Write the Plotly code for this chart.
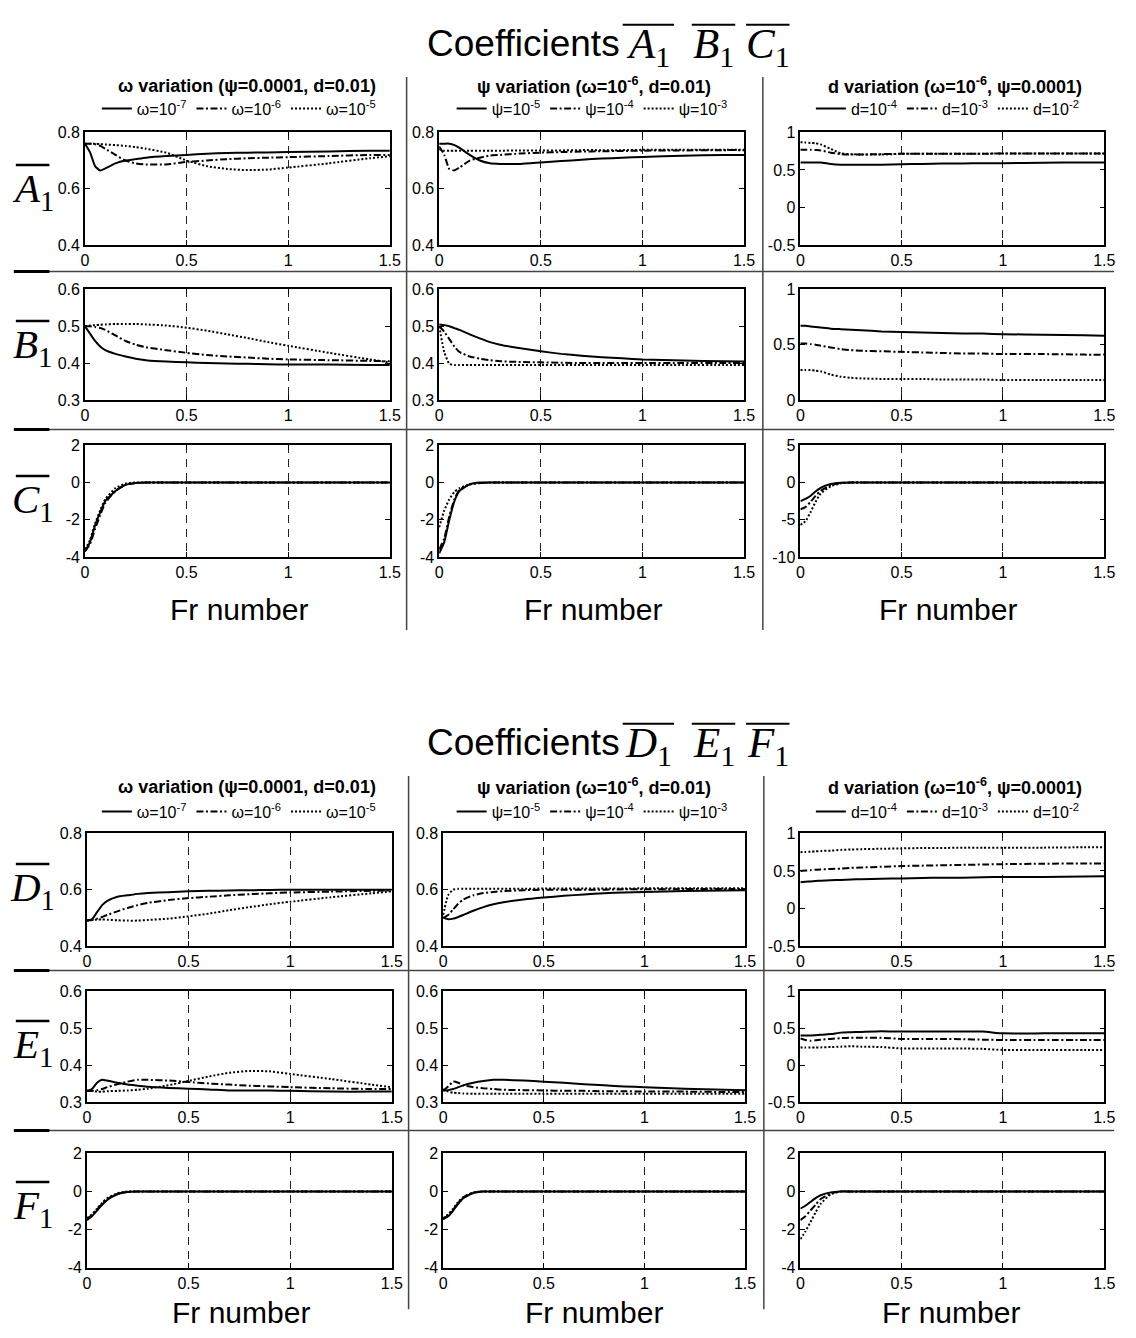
import plotly.graph_objects as go

W, H = 1136, 1338

# ---------------- data ----------------
FR = [0, 0.025, 0.05, 0.075, 0.1, 0.15, 0.2, 0.25, 0.3, 0.4, 0.5, 0.6, 0.7, 0.8, 0.9, 1.0, 1.2, 1.4, 1.5]
X_TICKS = [0, 0.5, 1, 1.5]
X_TICKTEXT = ["0", "0.5", "1", "1.5"]

# A1
A_w7 = [0.76, 0.73, 0.68, 0.665, 0.672, 0.69, 0.70, 0.705, 0.71, 0.716, 0.72, 0.724, 0.727, 0.728, 0.729, 0.73, 0.732, 0.735, 0.735]
A_w6 = [0.76, 0.76, 0.758, 0.752, 0.742, 0.72, 0.70, 0.69, 0.686, 0.686, 0.695, 0.70, 0.705, 0.708, 0.71, 0.712, 0.716, 0.72, 0.72]
A_w5 = [0.76, 0.76, 0.76, 0.758, 0.757, 0.755, 0.752, 0.748, 0.742, 0.728, 0.70, 0.68, 0.67, 0.666, 0.668, 0.675, 0.69, 0.708, 0.715]
A_p5 = [0.76, 0.76, 0.76, 0.755, 0.745, 0.72, 0.70, 0.69, 0.688, 0.688, 0.693, 0.698, 0.703, 0.707, 0.71, 0.713, 0.717, 0.72, 0.72]
A_p4 = [0.75, 0.72, 0.67, 0.665, 0.675, 0.70, 0.71, 0.718, 0.72, 0.725, 0.728, 0.73, 0.732, 0.733, 0.734, 0.735, 0.736, 0.737, 0.737]
A_p3 = [0.74, 0.735, 0.735, 0.735, 0.735, 0.735, 0.735, 0.735, 0.735, 0.736, 0.736, 0.736, 0.737, 0.737, 0.737, 0.738, 0.738, 0.738, 0.738]
A_d4 = [0.60, 0.60, 0.60, 0.60, 0.60, 0.58, 0.57, 0.57, 0.57, 0.57, 0.575, 0.58, 0.585, 0.585, 0.59, 0.59, 0.595, 0.60, 0.60]
A_d3 = [0.77, 0.77, 0.77, 0.765, 0.76, 0.73, 0.71, 0.705, 0.705, 0.71, 0.715, 0.715, 0.715, 0.715, 0.715, 0.72, 0.72, 0.72, 0.72]
A_d2 = [0.87, 0.865, 0.86, 0.855, 0.84, 0.78, 0.72, 0.71, 0.705, 0.705, 0.715, 0.715, 0.715, 0.715, 0.715, 0.72, 0.72, 0.72, 0.72]

# B1
B_w7 = [0.50, 0.48, 0.46, 0.445, 0.435, 0.425, 0.418, 0.412, 0.408, 0.404, 0.402, 0.40, 0.399, 0.398, 0.397, 0.396, 0.396, 0.395, 0.395]
B_w6 = [0.50, 0.50, 0.498, 0.495, 0.49, 0.475, 0.46, 0.45, 0.443, 0.435, 0.428, 0.422, 0.418, 0.415, 0.412, 0.41, 0.408, 0.406, 0.405]
B_w5 = [0.50, 0.502, 0.503, 0.504, 0.505, 0.506, 0.506, 0.506, 0.505, 0.502, 0.496, 0.488, 0.478, 0.468, 0.457, 0.447, 0.428, 0.41, 0.402]
B_p5 = [0.505, 0.503, 0.50, 0.495, 0.49, 0.478, 0.467, 0.457, 0.45, 0.44, 0.432, 0.425, 0.42, 0.416, 0.413, 0.41, 0.407, 0.405, 0.404]
B_p4 = [0.50, 0.485, 0.465, 0.445, 0.43, 0.418, 0.412, 0.408, 0.405, 0.403, 0.402, 0.401, 0.40, 0.40, 0.40, 0.40, 0.40, 0.40, 0.40]
B_p3 = [0.50, 0.43, 0.398, 0.395, 0.395, 0.395, 0.395, 0.395, 0.395, 0.395, 0.395, 0.395, 0.395, 0.395, 0.395, 0.395, 0.395, 0.395, 0.395]
B_d4 = [0.67, 0.67, 0.665, 0.66, 0.655, 0.645, 0.64, 0.635, 0.63, 0.62, 0.615, 0.61, 0.605, 0.60, 0.60, 0.595, 0.59, 0.585, 0.58]
B_d3 = [0.51, 0.51, 0.505, 0.50, 0.49, 0.475, 0.46, 0.45, 0.445, 0.44, 0.435, 0.43, 0.425, 0.42, 0.42, 0.415, 0.415, 0.41, 0.41]
B_d2 = [0.27, 0.27, 0.27, 0.265, 0.26, 0.23, 0.21, 0.20, 0.195, 0.19, 0.19, 0.19, 0.185, 0.185, 0.185, 0.18, 0.18, 0.18, 0.18]

# C1
C_w7 = [-3.7, -3.2, -2.3, -1.6, -1.0, -0.45, -0.12, -0.02, 0, 0, 0, 0, 0, 0, 0, 0, 0, 0, 0]
C_w6 = [-3.7, -3.3, -2.5, -1.75, -1.1, -0.45, -0.12, -0.03, 0, 0, 0, 0, 0, 0, 0, 0, 0, 0, 0]
C_w5 = [-3.6, -3.1, -2.2, -1.5, -0.9, -0.3, -0.05, 0, 0, 0, 0, 0, 0, 0, 0, 0, 0, 0, 0]
C_p5 = [-3.8, -3.2, -2.0, -1.0, -0.45, -0.1, 0, 0, 0, 0, 0, 0, 0, 0, 0, 0, 0, 0, 0]
C_p4 = [-3.6, -3.0, -1.8, -0.9, -0.4, -0.1, -0.02, 0, 0, 0, 0, 0, 0, 0, 0, 0, 0, 0, 0]
C_p3 = [-2.4, -1.5, -0.9, -0.5, -0.3, -0.1, -0.03, 0, 0, 0, 0, 0, 0, 0, 0, 0, 0, 0, 0]
C_d4 = [-2.5, -2.2, -1.8, -1.2, -0.7, -0.2, -0.03, 0, 0, 0, 0, 0, 0, 0, 0, 0, 0, 0, 0]
C_d3 = [-3.6, -3.3, -2.6, -1.8, -1.1, -0.35, -0.05, 0, 0, 0, 0, 0, 0, 0, 0, 0, 0, 0, 0]
C_d2 = [-5.7, -5.2, -4.0, -2.6, -1.5, -0.5, -0.1, 0, 0, 0, 0, 0, 0, 0, 0, 0, 0, 0, 0]

# D1
D_w7 = [0.49, 0.495, 0.52, 0.545, 0.56, 0.575, 0.58, 0.585, 0.588, 0.591, 0.594, 0.596, 0.597, 0.598, 0.599, 0.60, 0.60, 0.60, 0.60]
D_w6 = [0.49, 0.492, 0.497, 0.503, 0.51, 0.523, 0.535, 0.545, 0.553, 0.563, 0.57, 0.575, 0.58, 0.584, 0.587, 0.59, 0.593, 0.596, 0.597]
D_w5 = [0.49, 0.492, 0.494, 0.494, 0.493, 0.491, 0.49, 0.49, 0.492, 0.497, 0.505, 0.515, 0.527, 0.538, 0.548, 0.557, 0.573, 0.587, 0.594]
D_p5 = [0.50, 0.495, 0.497, 0.503, 0.51, 0.525, 0.538, 0.548, 0.555, 0.565, 0.572, 0.578, 0.583, 0.587, 0.59, 0.592, 0.595, 0.597, 0.598]
D_p4 = [0.50, 0.51, 0.53, 0.55, 0.565, 0.58, 0.588, 0.592, 0.595, 0.598, 0.60, 0.60, 0.60, 0.60, 0.601, 0.601, 0.602, 0.602, 0.602]
D_p3 = [0.51, 0.58, 0.60, 0.603, 0.603, 0.603, 0.603, 0.603, 0.603, 0.603, 0.604, 0.604, 0.604, 0.604, 0.604, 0.605, 0.605, 0.605, 0.605]
D_d4 = [0.35, 0.355, 0.36, 0.365, 0.37, 0.375, 0.38, 0.385, 0.39, 0.395, 0.40, 0.405, 0.41, 0.41, 0.415, 0.42, 0.42, 0.425, 0.43]
D_d3 = [0.50, 0.505, 0.51, 0.515, 0.52, 0.525, 0.53, 0.54, 0.545, 0.555, 0.565, 0.57, 0.575, 0.58, 0.585, 0.59, 0.595, 0.60, 0.60]
D_d2 = [0.75, 0.752, 0.755, 0.76, 0.765, 0.77, 0.78, 0.785, 0.79, 0.795, 0.80, 0.805, 0.805, 0.81, 0.81, 0.81, 0.81, 0.815, 0.815]

# E1
E_w7 = [0.33, 0.335, 0.352, 0.36, 0.358, 0.352, 0.347, 0.344, 0.341, 0.338, 0.336, 0.334, 0.331, 0.331, 0.331, 0.33, 0.328, 0.328, 0.328]
E_w6 = [0.33, 0.33, 0.332, 0.335, 0.34, 0.348, 0.355, 0.36, 0.36, 0.358, 0.354, 0.35, 0.347, 0.344, 0.342, 0.34, 0.337, 0.335, 0.335]
E_w5 = [0.33, 0.33, 0.328, 0.328, 0.329, 0.33, 0.331, 0.333, 0.336, 0.345, 0.357, 0.369, 0.379, 0.384, 0.383, 0.376, 0.362, 0.347, 0.34]
E_p5 = [0.33, 0.332, 0.335, 0.34, 0.345, 0.352, 0.357, 0.36, 0.36, 0.358, 0.355, 0.352, 0.348, 0.345, 0.342, 0.34, 0.336, 0.333, 0.332]
E_p4 = [0.33, 0.342, 0.355, 0.352, 0.345, 0.34, 0.337, 0.335, 0.333, 0.332, 0.331, 0.33, 0.33, 0.329, 0.329, 0.328, 0.328, 0.327, 0.327]
E_p3 = [0.335, 0.328, 0.325, 0.324, 0.323, 0.322, 0.322, 0.322, 0.322, 0.322, 0.322, 0.322, 0.322, 0.322, 0.322, 0.322, 0.322, 0.322, 0.322]
E_d4 = [0.40, 0.40, 0.40, 0.405, 0.41, 0.42, 0.44, 0.445, 0.45, 0.46, 0.455, 0.455, 0.455, 0.455, 0.455, 0.43, 0.43, 0.43, 0.43]
E_d3 = [0.36, 0.34, 0.33, 0.335, 0.345, 0.355, 0.365, 0.37, 0.37, 0.37, 0.355, 0.355, 0.355, 0.35, 0.345, 0.34, 0.34, 0.34, 0.34]
E_d2 = [0.24, 0.24, 0.24, 0.24, 0.24, 0.245, 0.25, 0.255, 0.25, 0.245, 0.225, 0.225, 0.225, 0.225, 0.22, 0.205, 0.205, 0.205, 0.205]

# F1
F_w7 = [-1.5, -1.3, -1.0, -0.7, -0.45, -0.15, -0.03, 0, 0, 0, 0, 0, 0, 0, 0, 0, 0, 0, 0]
F_w6 = [-1.45, -1.25, -0.95, -0.65, -0.4, -0.12, -0.02, 0, 0, 0, 0, 0, 0, 0, 0, 0, 0, 0, 0]
F_w5 = [-1.4, -1.2, -0.9, -0.6, -0.35, -0.1, 0, 0, 0, 0, 0, 0, 0, 0, 0, 0, 0, 0, 0]
F_p5 = [-1.45, -1.3, -1.0, -0.65, -0.35, -0.08, 0, 0, 0, 0, 0, 0, 0, 0, 0, 0, 0, 0, 0]
F_p4 = [-1.45, -1.25, -0.95, -0.6, -0.32, -0.06, 0, 0, 0, 0, 0, 0, 0, 0, 0, 0, 0, 0, 0]
F_p3 = [-1.4, -1.2, -0.9, -0.55, -0.3, -0.05, 0, 0, 0, 0, 0, 0, 0, 0, 0, 0, 0, 0, 0]
F_d4 = [-0.9, -0.75, -0.55, -0.35, -0.2, -0.05, 0, 0, 0, 0, 0, 0, 0, 0, 0, 0, 0, 0, 0]
F_d3 = [-1.5, -1.3, -1.0, -0.7, -0.4, -0.1, 0, 0, 0, 0, 0, 0, 0, 0, 0, 0, 0, 0, 0]
F_d2 = [-2.5, -2.1, -1.6, -1.1, -0.65, -0.15, 0, 0, 0, 0, 0, 0, 0, 0, 0, 0, 0, 0, 0]

LABELS_W = ["ω=10<sup>-7</sup>", "ω=10<sup>-6</sup>", "ω=10<sup>-5</sup>"]
LABELS_P = ["ψ=10<sup>-5</sup>", "ψ=10<sup>-4</sup>", "ψ=10<sup>-3</sup>"]
LABELS_D = ["d=10<sup>-4</sup>", "d=10<sup>-3</sup>", "d=10<sup>-2</sup>"]
HEADERS = ["<b>ω variation (ψ=0.0001, d=0.01)</b>",
           "<b>ψ variation (ω=10<sup>-6</sup>, d=0.01)</b>",
           "<b>d variation (ω=10<sup>-6</sup>, ψ=0.0001)</b>"]
ROW_LETTERS = ["A", "B", "C", "D", "E", "F"]
TITLE_WORD = "Coefficients"
AXIS_TITLE = "Fr number"

TICKS_04_08 = [0.4, 0.6, 0.8]
TICKS_03_06 = [0.3, 0.4, 0.5, 0.6]
TICKS_M05_1 = [-0.5, 0, 0.5, 1]
TICKS_0_1 = [0, 0.5, 1]
TICKS_M4_2 = [-4, -2, 0, 2]
TICKS_M10_5 = [-10, -5, 0, 5]

# panels: (row, col, series, y ticks)
PANELS = [
    (0, 0, [A_w7, A_w6, A_w5], TICKS_04_08), (0, 1, [A_p5, A_p4, A_p3], TICKS_04_08), (0, 2, [A_d4, A_d3, A_d2], TICKS_M05_1),
    (1, 0, [B_w7, B_w6, B_w5], TICKS_03_06), (1, 1, [B_p5, B_p4, B_p3], TICKS_03_06), (1, 2, [B_d4, B_d3, B_d2], TICKS_0_1),
    (2, 0, [C_w7, C_w6, C_w5], TICKS_M4_2), (2, 1, [C_p5, C_p4, C_p3], TICKS_M4_2), (2, 2, [C_d4, C_d3, C_d2], TICKS_M10_5),
    (3, 0, [D_w7, D_w6, D_w5], TICKS_04_08), (3, 1, [D_p5, D_p4, D_p3], TICKS_04_08), (3, 2, [D_d4, D_d3, D_d2], TICKS_M05_1),
    (4, 0, [E_w7, E_w6, E_w5], TICKS_03_06), (4, 1, [E_p5, E_p4, E_p3], TICKS_03_06), (4, 2, [E_d4, E_d3, E_d2], TICKS_M05_1),
    (5, 0, [F_w7, F_w6, F_w5], TICKS_M4_2), (5, 1, [F_p5, F_p4, F_p3], TICKS_M4_2), (5, 2, [F_d4, F_d3, F_d2], TICKS_M4_2),
]
COL_LABELS = [LABELS_W, LABELS_P, LABELS_D]

# ---------------- layout geometry (pixels) ----------------
ROWS_PX = [(126, 240), (285, 397), (443, 556), (836, 950), (996, 1108), (1160, 1276)]
COLS_PX_TOP = [(82, 391), (441, 750), (807, 1115)]
COLS_PX_BOT = [(84, 393), (445, 751), (807, 1115)]
DASHES = ["solid", "7px,2.5px,2px,2.5px", "2px,2px"]

SANS = "Liberation Sans, Arial, sans-serif"
SERIF = "Liberation Serif, Times New Roman, serif"


def fx(px):
    return px / W


def fy(py):
    return 1 - py / H


def fmt(v):
    return "%g" % v


fig = go.Figure()
layout = dict(width=W, height=H, margin=dict(l=0, r=0, t=0, b=0),
              paper_bgcolor="white", plot_bgcolor="white",
              font=dict(family=SANS, size=16, color="black"))

for k, (r, c, series, yt) in enumerate(PANELS, start=1):
    cols = COLS_PX_TOP if r < 3 else COLS_PX_BOT
    l, rr = cols[c]
    t, b = ROWS_PX[r]
    xa = "xaxis" if k == 1 else "xaxis%d" % k
    ya = "yaxis" if k == 1 else "yaxis%d" % k
    xs = "x" if k == 1 else "x%d" % k
    ys = "y" if k == 1 else "y%d" % k
    layout[xa] = dict(domain=[fx(l), fx(rr)], anchor=ys, range=[0, 1.5],
                      tickvals=X_TICKS, ticktext=X_TICKTEXT, ticks="inside", ticklen=5,
                      tickcolor="black", mirror="ticks", showline=True, linecolor="black",
                      linewidth=1.5, showgrid=True, gridcolor="#222", gridwidth=1,
                      griddash="8px,6px", zeroline=False, tickfont=dict(size=16, family=SANS))
    layout[ya] = dict(domain=[fy(b), fy(t)], anchor=xs, range=[yt[0], yt[-1]],
                      tickvals=yt, ticktext=[fmt(v) for v in yt], ticks="inside", ticklen=5,
                      tickcolor="black", mirror="ticks", showline=True, linecolor="black",
                      linewidth=1.5, showgrid=False, zeroline=False,
                      tickfont=dict(size=16, family=SANS))
    legend_id = None
    if r in (0, 3):
        n = c + 1 + (3 if r == 3 else 0)
        legend_id = "legend" if n == 1 else "legend%d" % n
    for i, ys_vals in enumerate(series):
        fig.add_trace(go.Scatter(
            x=FR, y=ys_vals, mode="lines", xaxis=xs, yaxis=ys,
            name=COL_LABELS[c][i],
            line=dict(color="black", width=2, dash=DASHES[i], shape="spline", smoothing=0.5),
            showlegend=legend_id is not None,
            legend=legend_id if legend_id else "legend",
            hoverinfo="skip"))

# legends
LEG_X = [238, 596, 956]
for blk, ly in enumerate([102, 814]):
    for c in range(3):
        n = c + 1 + 3 * blk
        key = "legend" if n == 1 else "legend%d" % n
        layout[key] = dict(orientation="h", x=fx(LEG_X[c]), y=fy(ly), xanchor="center",
                           yanchor="middle", bgcolor="rgba(0,0,0,0)",
                           font=dict(family=SANS, size=16, color="black"),
                           itemwidth=30, tracegroupgap=0, borderwidth=0)

annotations = []
shapes = []
# titles: word + three overlined symbols
SYM_X = [653, 719, 774]
BAR_X = [(627, 679), (697, 741), (752, 796)]
for ty, letters in [(36, "ABC"), (744, "DEF")]:
    annotations.append(dict(
        x=fx(626), y=fy(ty), xref="paper", yref="paper", showarrow=False,
        xanchor="right", yanchor="middle", text=TITLE_WORD,
        font=dict(family=SANS, size=37, color="black")))
    for j, L in enumerate(letters):
        annotations.append(dict(
            x=fx(SYM_X[j]), y=fy(ty + 4), xref="paper", yref="paper", showarrow=False,
            xanchor="center", yanchor="middle", text="<i>%s</i><sub>1</sub>" % L,
            font=dict(family=SERIF, size=43, color="black")))
        by = ty - 19
        shapes.append(dict(type="line", xref="paper", yref="paper",
                           x0=fx(BAR_X[j][0]), x1=fx(BAR_X[j][1]),
                           y0=fy(by), y1=fy(by), line=dict(color="black", width=2)))
# column headers
HEAD_X = [246, 598, 964]
for hy in [79, 789]:
    for c in range(3):
        annotations.append(dict(x=fx(HEAD_X[c]), y=fy(hy), xref="paper", yref="paper",
                                showarrow=False, xanchor="center", yanchor="middle",
                                text=HEADERS[c], font=dict(family=SANS, size=18, color="black")))
# Fr number
for fyy, xs_c in [(609, [238, 597, 957]), (1321, [240, 598, 960])]:
    for xc in xs_c:
        annotations.append(dict(x=fx(xc), y=fy(fyy), xref="paper", yref="paper",
                                showarrow=False, xanchor="center", yanchor="middle",
                                text=AXIS_TITLE, font=dict(family=SANS, size=30, color="black")))
# row labels
ROW_LABEL_Y = [185, 343, 500, 893, 1052, 1215]
for i, L in enumerate(ROW_LETTERS):
    annotations.append(dict(x=fx(29), y=fy(ROW_LABEL_Y[i]), xref="paper", yref="paper",
                            showarrow=False, xanchor="center", yanchor="middle",
                            text="<i>%s</i><sub>1</sub>" % L,
                            font=dict(family=SERIF, size=41, color="black")))
    oy = ROW_LABEL_Y[i] - 26
    shapes.append(dict(type="line", xref="paper", yref="paper", x0=fx(12), x1=fx(46),
                       y0=fy(oy), y1=fy(oy), line=dict(color="black", width=2.5)))

# separators
for sy in [267, 427, 975, 1137]:
    shapes.append(dict(type="line", xref="paper", yref="paper", x0=fx(10), x1=fx(1125),
                       y0=fy(sy), y1=fy(sy), line=dict(color="#444", width=1.5)))
    shapes.append(dict(type="line", xref="paper", yref="paper", x0=fx(10), x1=fx(46),
                       y0=fy(sy), y1=fy(sy), line=dict(color="black", width=3)))
for sx, y0, y1 in [(408, 70, 630), (769, 70, 630), (410, 778, 1318), (770, 778, 1318)]:
    shapes.append(dict(type="line", xref="paper", yref="paper", x0=fx(sx), x1=fx(sx),
                       y0=fy(y0), y1=fy(y1), line=dict(color="#444", width=1.5)))

layout["annotations"] = annotations
layout["shapes"] = shapes
fig.update_layout(**layout)
fig.write_html("out.html")
